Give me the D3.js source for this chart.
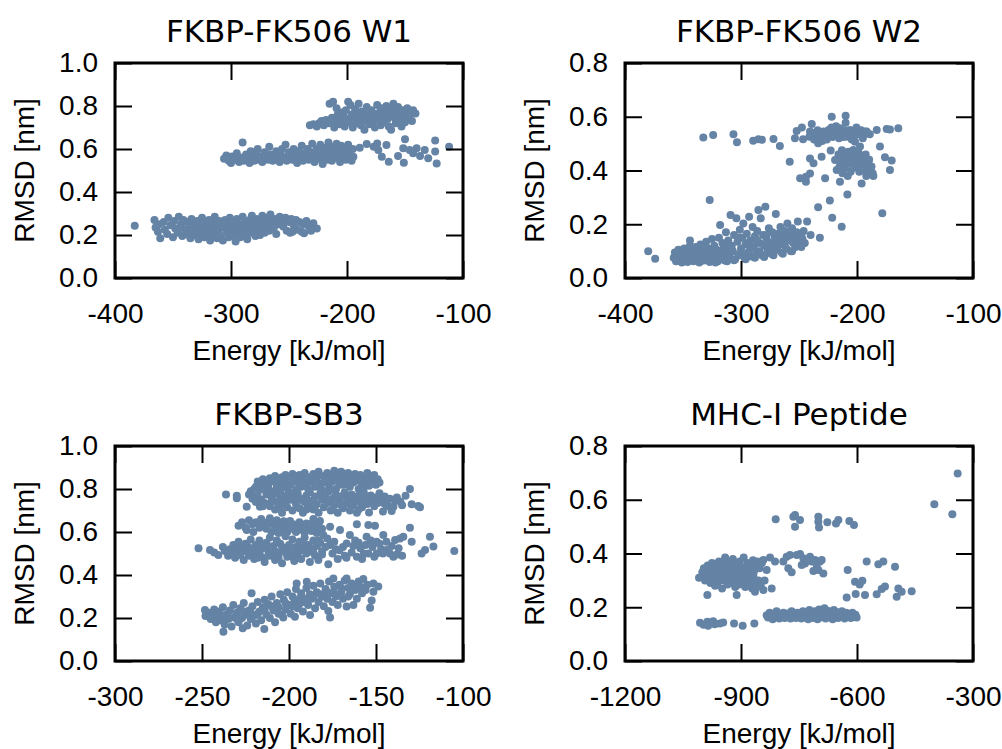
<!DOCTYPE html>
<html lang="en">
<head>
<meta charset="UTF-8">
<title>RMSD vs Energy</title>
<style>
  body { margin: 0; background: #fff; }
</style>
<script src="https://d3js.org/d3.v7.min.js"></script>
</head>
<body>
<script type="text/javascript">
// ---- data: [energy kJ/mol, RMSD nm] ----
const w1Low = [[-383,0.243],[-366,0.27],[-365,0.235],[-363,0.215],[-362,0.25],[-361,0.185],[-358,0.26],[-357,0.225],[-355,0.205],[-354,0.28],
[-352,0.245],[-350,0.19],[-349,0.265],[-348,0.23],[-346,0.21],[-345,0.285],[-343,0.25],[-342,0.195],[-341,0.27],[-339,0.225],[-338,0.205],[-337,0.26],[-336,0.24],
[-335,0.185],[-334,0.275],[-333,0.215],[-332,0.25],[-331,0.2],[-330,0.235],[-329,0.265],[-328,0.18],[-327,0.245],[-326,0.21],[-325,0.28],[-324,0.225],[-323,0.19],[-322,0.26],[-321,0.24],[-320,0.2],[-319,0.27],
[-318,0.175],[-317,0.23],[-316,0.255],[-315,0.205],[-314,0.285],[-313,0.24],[-312,0.185],[-311,0.22],[-310,0.265],[-309,0.195],[-308,0.25],[-307,0.175],[-306,0.235],[-305,0.27],[-304,0.21],[-303,0.245],[-302,0.19],[-301,0.28],
[-300,0.225],[-299,0.26],[-298,0.2],[-297,0.24],[-296,0.17],[-295,0.275],[-294,0.215],[-293,0.25],[-292,0.19],[-291,0.235],[-290,0.285],[-289,0.205],[-288,0.26],[-287,0.225],[-286,0.18],[-285,0.245],[-284,0.27],[-283,0.21],
[-282,0.29],[-281,0.235],[-280,0.255],[-279,0.195],[-278,0.275],[-277,0.225],[-276,0.245],[-275,0.2],[-274,0.265],[-273,0.29],[-272,0.235],[-271,0.21],[-270,0.255],[-269,0.28],[-268,0.24],[-267,0.22],
[-266,0.295],[-265,0.26],[-263,0.235],[-262,0.275],[-261,0.205],[-259,0.25],[-258,0.285],[-256,0.265],[-255,0.24],[-253,0.28],[-252,0.22],[-250,0.26],[-249,0.21],[-248,0.275],
[-246,0.245],[-244,0.27],[-243,0.225],[-241,0.26],[-239,0.215],[-238,0.25],[-235,0.265],[-233,0.24],[-231,0.22],[-229,0.255],[-226,0.23],[-237,0.208],[-247,0.215],
[-344,0.232],[-330,0.22],[-318,0.215],[-306,0.255],[-296,0.23],[-286,0.225],[-276,0.26],[-264,0.25]]

const w1Mid = [[-306,0.555],[-304,0.57],[-302,0.545],[-300,0.535],[-299,0.565],[-297,0.55],[-295,0.58],[-293,0.54],[-292,0.56],[-290,0.63],[-289,0.545],[-287,0.575],[-286,0.555],[-284,0.535],[-283,0.59],[-281,0.56],[-280,0.545],
[-278,0.575],[-277,0.6],[-276,0.55],[-274,0.565],[-273,0.54],[-271,0.585],[-270,0.56],[-268,0.55],[-267,0.61],[-266,0.575],[-264,0.545],[-263,0.565],[-261,0.59],[-260,0.555],[-258,0.54],[-257,0.575],[-256,0.6],[-254,0.56],[-253,0.62],
[-252,0.545],[-250,0.585],[-249,0.565],[-247,0.55],[-246,0.6],[-245,0.575],[-243,0.535],[-242,0.59],[-241,0.56],[-239,0.615],[-238,0.545],[-237,0.58],[-235,0.565],[-234,0.6],[-233,0.55],[-231,0.585],[-230,0.625],[-229,0.56],
[-228,0.54],[-226,0.6],[-225,0.575],[-224,0.555],[-223,0.62],[-222,0.59],[-221,0.53],[-220,0.565],[-219,0.605],[-218,0.58],[-217,0.55],[-216,0.63],[-215,0.595],[-214,0.57],[-213,0.545],[-212,0.61],[-211,0.585],[-210,0.56],
[-209,0.625],[-208,0.6],[-207,0.575],[-206,0.54],[-205,0.615],[-204,0.59],[-203,0.565],[-202,0.605],[-201,0.55],[-200,0.58],[-199,0.62],[-198,0.595],[-197,0.565],[-196,0.545],[-195,0.6],[-194.5,0.564],
[-189,0.606],[-183,0.623],[-177,0.611],[-174,0.626],[-173,0.595],[-170,0.564],[-166,0.619],[-164,0.541],[-156,0.567],[-151,0.536],[-150,0.645],[-151.5,0.603],[-146,0.595],[-143,0.58],[-140,0.603],
[-137,0.567],[-133,0.595],[-130,0.557],[-124,0.639],[-124,0.588],[-122.7,0.533],[-112,0.611]]

const w1High = [[-232,0.71],[-229,0.715],[-226,0.705],[-224,0.72],[-222,0.73],[-220,0.71],[-218,0.735],[-216,0.72],[-215,0.81],[-213,0.745],[-212,0.82],[-211,0.7],[-210,0.725],[-209,0.79],[-208,0.76],[-207,0.74],
[-206,0.715],[-205,0.77],[-204,0.73],[-203,0.75],[-202,0.705],[-201,0.78],[-200,0.74],[-199,0.82],[-198,0.725],[-197,0.805],[-196,0.76],[-195,0.7],[-194,0.745],[-193,0.785],[-192,0.72],[-191,0.765],[-190,0.81],
[-189,0.74],[-188,0.71],[-187,0.775],[-186,0.755],[-185,0.69],[-184,0.73],[-183,0.795],[-182,0.76],[-181,0.715],[-180,0.745],[-179,0.78],[-178,0.725],[-177,0.765],[-176,0.7],[-175,0.75],[-174,0.805],[-173,0.735],
[-172,0.77],[-171,0.71],[-170,0.79],[-169,0.755],[-168,0.725],[-167,0.775],[-166,0.8],[-165,0.74],[-164,0.705],[-163,0.76],[-162,0.69],[-161,0.785],[-160,0.81],[-159,0.745],[-158,0.72],[-157,0.77],[-156,0.795],
[-155,0.735],[-154,0.76],[-153,0.705],[-152,0.78],[-151,0.75],[-150,0.725],[-149,0.77],[-148,0.79],[-147,0.74],[-146,0.76],[-144,0.73],[-143,0.78],[-141,0.765]]

const w2Low = [[-380,0.10],[-374,0.072],[-358,0.075],[-357,0.095],[-356,0.062],[-355,0.085],[-354,0.105],[-353,0.07],[-352,0.09],[-351,0.058],[-350,0.08],[-349,0.11],[-348,0.068],[-347,0.095],[-346,0.06],[-345,0.085],
[-344,0.14],[-344,0.12],[-343,0.073],[-342,0.1],[-341,0.062],[-340,0.088],[-339,0.115],[-338,0.07],[-337,0.095],[-336,0.058],[-335,0.125],[-334,0.08],[-333,0.105],[-332,0.065],[-331,0.09],[-330,0.135],[-329,0.075],[-328,0.11],
[-327,0.29],[-327,0.06],[-326,0.095],[-325,0.145],[-324,0.07],[-323,0.12],[-322,0.085],[-321,0.105],[-320,0.062],[-319,0.15],[-318,0.197],[-317,0.09],[-317,0.075],[-316,0.13],[-315,0.11],[-314,0.065],[-313,0.17],[-312,0.095],[-311,0.14],[-310,0.078],
[-309,0.234],[-308,0.12],[-307,0.1],[-306,0.16],[-305,0.07],[-304,0.222],[-303,0.135],[-302,0.085],[-301,0.18],[-300,0.11],[-299,0.15],[-298,0.203],[-297,0.075],[-296,0.125],[-295,0.165],[-294,0.095],[-293,0.228],[-292,0.14],[-291,0.08],[-290,0.19],
[-289,0.115],[-288,0.155],[-287,0.1],[-286,0.175],[-285,0.253],[-284,0.13],[-283,0.222],[-282,0.085],[-281,0.16],[-280,0.12],[-279,0.265],[-278,0.145],[-277,0.1],[-276,0.185],[-275,0.13],[-274,0.09],[-273,0.17],[-272,0.115],[-271,0.15],[-270,0.238],
[-269,0.105],[-268,0.165],[-267,0.135],[-266,0.19],[-265,0.095],[-264,0.15],[-263,0.125],[-262,0.175],[-261,0.11],[-260,0.203],[-259,0.14],[-258,0.16],[-257,0.1],[-256,0.185],[-255,0.13],[-254,0.15],[-253,0.115],[-252,0.17],[-251,0.21],[-250,0.14],
[-249,0.125],[-248,0.16],[-247,0.145],[-246,0.175],[-245,0.13],[-243,0.21],[-240,0.16],[-232,0.15],
[-335,0.062],[-322,0.058],[-312,0.062],[-306,0.066],[-296,0.07],[-288,0.075],[-280,0.078],[-272,0.085],[-264,0.09],[-256,0.1],[-248,0.115],
[-345,0.1],[-338,0.085],[-332,0.115],[-325,0.09],[-315,0.09],[-308,0.105],[-300,0.095],[-292,0.11],[-284,0.1],[-276,0.115],[-268,0.12],[-260,0.14],
[-320,0.1],[-310,0.12],[-302,0.15],[-294,0.13],[-286,0.14],[-278,0.16],[-270,0.14],[-262,0.155]]

const w2High = [[-332.5,0.523],[-324,0.532],[-306.5,0.535],[-303.5,0.505],[-289.5,0.511],[-285,0.516],[-282,0.514],[-272,0.517],[-266.5,0.491],[-258,0.433],[-253.5,0.52],[-252,0.547],[-247.5,0.56],[-246.5,0.516],
[-249,0.371],[-244,0.358],[-244,0.377],[-241,0.526],[-239,0.573],[-240.5,0.545],[-240.5,0.445],[-240.5,0.389],[-237.5,0.427],[-238,0.54],[-237,0.515],[-236,0.53],[-235,0.532],[-234,0.55],[-233.5,0.501],[-233,0.52],
[-232,0.523],[-231,0.54],[-230.5,0.451],[-230,0.51],[-229,0.545],[-228,0.53],[-227.5,0.371],[-226,0.515],[-233.5,0.263],[-223.4,0.288],[-221.4,0.224],[-213.2,0.191],[-208.3,0.311],[-178.2,0.241],[-222.7,0.474],[-221.8,0.6],
[-224.5,0.551],[-223,0.54],[-222,0.56],[-221,0.525],[-220.5,0.551],[-219.5,0.535],[-218.9,0.439],[-218,0.565],[-217.5,0.532],[-217.5,0.402],[-216.5,0.548],[-216,0.46],[-215.5,0.52],[-215,0.415],[-214.7,0.557],[-214.7,0.358],
[-214,0.44],[-213.5,0.54],[-213,0.475],[-212.5,0.39],[-212,0.525],[-211.5,0.43],[-211,0.455],[-210.5,0.55],[-210,0.41],[-209.8,0.604],[-209.8,0.578],[-209,0.526],[-208.5,0.445],[-208,0.38],[-207.5,0.47],[-207,0.54],
[-206.5,0.425],[-206,0.551],[-205.5,0.395],[-205,0.46],[-204.5,0.515],[-204,0.435],[-203.2,0.545],[-203.2,0.476],[-202.5,0.41],[-202,0.53],[-201.7,0.507],[-201,0.45],[-200.5,0.56],[-200.3,0.439],[-199.5,0.42],[-199,0.535],
[-198.5,0.465],[-198,0.395],[-197.4,0.489],[-197.4,0.414],[-196.5,0.55],[-196,0.352],[-195.5,0.445],[-195,0.52],[-194.5,0.532],[-194,0.43],[-193.5,0.4],[-193,0.545],[-192.5,0.46],[-192,0.38],[-191.7,0.545],[-191,0.42],
[-190.2,0.389],[-189.5,0.44],[-189,0.535],[-188.5,0.405],[-187.5,0.415],[-186.5,0.39],[-185.9,0.38],[-183,0.551],[-180.2,0.489],[-175.9,0.449],[-174.4,0.554],[-171.6,0.553],[-171.6,0.402],[-170.1,0.437],[-164.4,0.557]]

const sb3Top = [[-236.2,0.775],[-230,0.769],[-230,0.757],[-224.3,0.718],[-216.7,0.718],[-222,0.79],[-221,0.77],[-220,0.8],[-223,0.775],
[-219,0.81],[-218,0.835],[-217,0.795],[-216,0.82],[-215,0.845],[-214,0.8],[-213,0.83],[-212,0.815],[-211,0.85],[-210,0.79],[-209,0.835],[-208,0.86],[-207,0.81],[-206,0.84],[-205,0.795],[-204,0.855],[-203,0.825],
[-202,0.865],[-201,0.805],[-200,0.84],[-199,0.82],[-198,0.87],[-197,0.85],[-196,0.795],[-195,0.83],[-194,0.865],[-193,0.81],[-192,0.845],[-191,0.875],[-190,0.825],[-189,0.8],[-188,0.855],[-187,0.835],[-186,0.87],
[-185,0.81],[-184,0.85],[-183,0.88],[-182,0.825],[-181,0.795],[-180,0.86],[-179,0.84],[-178,0.875],[-177,0.815],[-176,0.855],[-175,0.835],[-174,0.885],[-173,0.8],[-172,0.865],[-171,0.845],[-170,0.88],[-169,0.82],
[-168,0.86],[-167,0.84],[-166,0.875],[-165,0.81],[-164,0.855],[-163,0.83],[-162,0.87],[-161,0.845],[-160,0.8],[-159,0.865],[-158,0.825],[-157,0.855],[-156,0.84],[-155,0.875],[-154,0.815],[-153,0.85],[-152,0.835],
[-151,0.865],[-150,0.82],[-149,0.845],[-148,0.83],
[-214,0.825],[-206,0.815],[-199,0.845],[-192,0.82],[-186,0.845],[-180,0.83],[-174,0.85],[-168,0.835],[-162,0.845],[-156,0.815],[-212,0.84],[-202,0.83],[-196,0.86],[-189,0.83],[-183,0.815],[-177,0.845],[-171,0.82],
[-165,0.845],[-159,0.835],[-153,0.825],
[-221,0.755],[-219,0.74],[-218,0.765],[-216,0.75],[-214,0.735],[-213,0.775],[-211,0.72],[-210,0.76],[-209,0.745],[-208,0.705],[-207,0.78],[-206,0.73],[-205,0.755],[-204,0.69],[-203,0.77],[-202,0.74],[-201,0.715],
[-200,0.785],[-199,0.75],[-198,0.7],[-197,0.765],[-196,0.73],[-195,0.78],[-194,0.71],[-193,0.755],[-192,0.69],[-191,0.74],[-190,0.77],[-189,0.72],[-188,0.785],[-187,0.745],[-186,0.705],[-185,0.765],[-184,0.73],
[-183,0.69],[-182,0.78],[-181,0.75],[-180,0.715],[-179,0.765],[-178,0.735],[-177,0.79],[-176,0.7],[-175,0.755],[-174,0.725],[-173,0.775],[-172,0.69],[-171,0.745],[-170,0.765],[-169,0.71],[-168,0.785],[-167,0.735],
[-166,0.755],[-165,0.7],[-164,0.775],[-163,0.725],[-162,0.75],[-161,0.69],[-160,0.77],[-159,0.74],[-158,0.715],[-157,0.785],[-156,0.755],[-155,0.73],[-154,0.691],[-153,0.77],[-152,0.745],[-151,0.72],[-150,0.76],
[-149,0.735],[-148,0.78],[-147,0.75],[-146,0.695],[-145,0.765],[-144,0.74],[-143,0.72],[-142,0.755],[-141,0.698],[-140,0.718],[-139,0.745],[-138,0.76],[-136,0.741],[-135,0.725],[-133,0.769],[-130.5,0.8],
[-129.5,0.729],[-125.7,0.721],[-124.7,0.715],
[-215,0.72],[-205,0.72],[-195,0.745],[-185,0.72],[-175,0.705],[-165,0.73],[-155,0.76],[-145,0.73],[-190,0.705],[-180,0.765],[-170,0.725],[-160,0.705],[-200,0.765],[-210,0.74]]

const sb3Mid = [[-229,0.629],[-227,0.645],[-225,0.62],[-224.3,0.609],[-223,0.655],[-221,0.636],[-220.5,0.6],[-219,0.645],[-217,0.62],[-216,0.66],[-214.7,0.645],[-213,0.615],[-212,0.635],[-211,0.664],[-210,0.6],
[-209,0.64],[-208,0.62],[-207,0.655],[-206,0.595],[-205,0.635],[-204,0.61],[-203,0.65],[-202,0.625],[-201,0.6],[-200,0.64],[-199.4,0.651],[-198,0.615],[-197,0.635],[-196,0.6],[-195,0.625],[-194,0.645],[-193,0.61],
[-192,0.63],[-191,0.595],[-190,0.64],[-189,0.62],[-188,0.636],[-187,0.605],[-186,0.66],[-185,0.625],[-184,0.595],[-183,0.64],[-182.2,0.651],[-181,0.615],[-176.4,0.625],[-161,0.636],[-154.4,0.633],[-150.6,0.629],[-130.5,0.62],
[-252,0.524],[-245.4,0.516],[-243,0.505],[-240.6,0.493],[-238,0.53],[-236.8,0.512],[-235,0.49],
[-234,0.52],[-233,0.5],[-232,0.54],[-231,0.48],[-230,0.515],[-229,0.555],[-228,0.495],[-227,0.53],[-226,0.47],[-225,0.545],[-224,0.51],[-223,0.49],[-222,0.565],[-221,0.525],[-220,0.475],[-219,0.54],[-218,0.505],
[-217,0.56],[-216,0.485],[-215,0.53],[-214,0.46],[-213,0.55],[-212,0.515],[-211,0.575],[-210,0.49],[-209,0.535],[-208,0.47],[-207,0.56],[-206,0.5],[-205,0.545],[-204,0.455],[-203,0.52],[-202,0.58],[-201,0.485],
[-200,0.54],[-199,0.505],[-198,0.565],[-197,0.465],[-196,0.53],[-195,0.495],[-194,0.555],[-193,0.475],[-192,0.515],[-191,0.575],[-190,0.5],[-189,0.54],[-188,0.46],[-187,0.525],[-186,0.56],[-185,0.49],[-184,0.535],
[-183.1,0.47],[-182,0.55],[-181,0.51],
[-232,0.505],[-228,0.525],[-224,0.535],[-220,0.5],[-216,0.52],[-212,0.49],[-208,0.51],[-204,0.53],[-200,0.515],[-196,0.505],[-192,0.545],[-188,0.52],[-230,0.49],[-226,0.51],[-222,0.515],[-218,0.48],[-214,0.535],
[-210,0.525],[-206,0.48],[-202,0.505],[-198,0.485],[-194,0.52],[-190,0.53],[-186,0.505],
[-180.3,0.586],[-177.4,0.45],[-176.4,0.54],[-175,0.5],[-173,0.52],[-172,0.475],[-170.7,0.609],[-169,0.53],[-168,0.49],[-166.9,0.547],[-165,0.586],[-164,0.505],[-162,0.56],[-161,0.485],[-159,0.525],[-157,0.5],
[-155.4,0.578],[-154.4,0.5],[-152,0.53],[-149.6,0.555],[-149.6,0.5],[-147,0.52],[-145.8,0.586],[-143.9,0.516],[-142,0.5],[-141,0.535],[-140,0.485],[-139,0.563],[-138,0.495],[-136.2,0.57],[-134.3,0.578],
[-129.5,0.555],[-123.8,0.5],[-121.8,0.516],[-119,0.578],[-117,0.532],[-105,0.512],
[-183,0.56],[-181,0.495],[-179,0.53],[-178,0.57],[-174,0.555],[-171,0.515],[-167,0.48],[-163,0.535],[-160,0.55],[-158,0.475],[-156,0.54],[-153,0.56],[-151,0.485],[-148,0.545],[-146,0.5],[-144,0.555],[-137,0.525],[-135,0.49]]

const sb3Low = [[-248.3,0.237],[-248,0.209],[-246,0.225],[-245,0.195],[-244,0.215],[-243,0.24],[-242,0.18],[-241,0.205],[-240,0.23],[-239,0.19],[-238,0.25],[-237.7,0.136],[-237,0.17],[-236,0.215],[-235,0.195],
[-234,0.235],[-233,0.16],[-232,0.26],[-231,0.205],[-230,0.225],[-229,0.18],[-228,0.245],[-227,0.2],[-226.6,0.152],[-226,0.27],[-225,0.215],[-224,0.165],[-223,0.235],[-222,0.195],[-221.5,0.315],[-221,0.255],
[-220,0.21],[-219,0.175],[-218,0.275],[-217,0.23],[-216,0.19],[-215,0.25],[-214.2,0.149],[-214,0.285],[-213,0.215],[-212,0.265],[-211,0.2],[-210,0.3],[-209,0.235],[-208,0.18],[-207,0.27],[-206,0.25],[-205,0.31],
[-204,0.215],[-203.3,0.202],[-203,0.285],[-202,0.24],[-201,0.32],[-200,0.26],[-199,0.22],[-198,0.3],[-197,0.275],[-196.6,0.206],[-196,0.335],[-195.6,0.361],[-195,0.245],[-194,0.29],[-193,0.315],[-192,0.23],
[-191,0.275],[-190,0.34],[-189.8,0.369],[-189,0.26],[-188,0.31],[-187.9,0.214],[-187,0.29],[-186,0.35],[-185,0.245],[-184,0.32],[-183,0.275],[-182,0.36],[-181,0.3],[-180,0.255],[-179,0.335],[-178,0.29],
[-177.4,0.233],[-177,0.37],[-176.4,0.202],[-176,0.315],[-175,0.275],[-174.5,0.384],[-174,0.345],[-173,0.3],[-172,0.26],[-171,0.355],[-170,0.32],[-169,0.29],[-168,0.375],[-166.9,0.384],[-166.9,0.253],[-166,0.34],
[-165,0.31],[-164,0.36],[-163,0.26],[-162,0.33],[-161,0.29],[-160,0.37],[-159,0.345],[-158,0.315],[-157.3,0.381],[-156,0.33],[-155,0.355],[-153.4,0.248],[-152.5,0.281],[-151.5,0.322],[-151.5,0.361],[-148.7,0.346],
[-242,0.22],[-238,0.205],[-234,0.2],[-230,0.195],[-226,0.23],[-222,0.225],[-218,0.22],[-214,0.24],[-210,0.255],[-206,0.22],[-202,0.27],[-198,0.255],[-194,0.265],[-190,0.29],[-186,0.3],[-182,0.31],[-178,0.32],
[-174,0.315],[-170,0.34],[-166,0.3],[-162,0.35]]

const mhcUpper = [[-1008.6,0.31],[-1000,0.33],[-998,0.315],[-995,0.34],[-993,0.3],[-990,0.325],[-987,0.246],[-986,0.355],[-984,0.31],[-981,0.335],[-979,0.29],[-977,0.32],[-975,0.365],[-973,0.345],[-971,0.305],
[-969,0.33],[-967,0.28],[-965,0.36],[-963,0.315],[-961,0.34],[-959,0.295],[-957,0.37],[-955,0.325],[-953,0.35],[-951,0.31],[-949,0.27],[-947,0.335],[-945,0.36],[-943,0.3],[-941,0.385],[-939,0.32],[-937,0.345],
[-935,0.285],[-933,0.31],[-931,0.365],[-929,0.33],[-927,0.29],[-925,0.35],[-923,0.315],[-921,0.38],[-919,0.3],[-917,0.34],[-915,0.275],[-913,0.32],[-911.2,0.246],[-911,0.36],[-909,0.305],[-907,0.335],[-905,0.285],
[-903,0.37],[-901,0.315],[-899,0.35],[-897,0.295],[-895,0.33],[-893,0.385],[-891,0.31],[-889,0.275],[-887,0.345],[-885,0.32],[-883,0.365],[-881,0.29],[-879,0.335],[-877,0.28],[-875,0.355],[-873,0.31],[-871,0.27],
[-869,0.375],[-867,0.33],[-865,0.29],[-863.8,0.258],[-861,0.35],[-859,0.275],[-857,0.37],[-855,0.3],[-852,0.345],[-849,0.28],[-846,0.365],[-842.2,0.264],[-842.2,0.376],[-839,0.3],[-833.6,0.339],[-825,0.385],
[-820.7,0.27],[-812,0.37],
[-996,0.345],[-988,0.31],[-980,0.3],[-972,0.325],[-964,0.3],[-956,0.345],[-948,0.32],[-940,0.305],[-932,0.335],[-924,0.3],[-916,0.355],[-908,0.32],[-900,0.335],[-892,0.3],[-884,0.34],[-876,0.3],[-868,0.315],
[-790.5,0.37],[-781.9,0.388],[-773.3,0.394],[-777.6,0.345],[-769,0.33],[-756,0.394],[-747.4,0.398],[-738.8,0.382],[-734.5,0.363],[-743,0.357],[-721.6,0.388],[-717.2,0.37],[-708.6,0.376],[-704.3,0.357],
[-695.7,0.37],[-691.4,0.376],[-712.9,0.335],[-700,0.339],[-687.1,0.326],[-728,0.375],
[-810.3,0.527],[-764.7,0.537],[-760.3,0.543],[-747.4,0.525],[-760.3,0.5],[-700,0.537],[-700,0.518],[-698.3,0.497],[-676.7,0.516],[-654.3,0.512],[-648.3,0.525],[-619.8,0.521],[-607.8,0.506],
[-624.1,0.339],[-575,0.37],[-544.8,0.36],[-531.9,0.37],[-501.7,0.351],[-605.2,0.295],[-593,0.285],[-586.2,0.299],[-626.7,0.236],[-603.4,0.249],[-579.3,0.246],[-549.1,0.248],[-536.2,0.268],[-527.6,0.277],
[-497.4,0.239],[-493.1,0.27],[-484.5,0.258],[-458.6,0.26],
[-339.7,0.698],[-400,0.583],[-353.4,0.546]]

const mhcLower = [[-1006,0.142],[-997,0.135],[-987,0.146],[-985,0.131],[-972,0.148],[-968,0.137],[-955,0.14],[-946,0.143],[-918,0.14],[-895.7,0.131],[-865.5,0.14],
[-833.6,0.17],[-830,0.162],[-826,0.18],[-822,0.168],[-818,0.155],[-815,0.175],[-811,0.163],[-808,0.185],[-805,0.17],[-801,0.158],[-798,0.176],[-794,0.166],[-790,0.18],[-787,0.16],[-783,0.172],[-780,0.164],
[-776,0.178],[-772,0.158],[-769,0.185],[-765,0.168],[-762,0.175],[-758,0.16],[-754,0.18],[-751,0.165],[-747,0.172],[-744,0.158],[-740,0.185],[-737,0.17],[-733,0.162],[-730,0.178],[-726,0.155],[-723,0.19],
[-719,0.168],[-716,0.176],[-712,0.16],[-709,0.185],[-705,0.17],[-702,0.155],[-698,0.192],[-695,0.175],[-691,0.163],[-688,0.18],[-684,0.196],[-681,0.158],[-677,0.172],[-674,0.186],[-670,0.165],[-667,0.178],
[-663,0.155],[-660,0.19],[-656,0.17],[-653,0.182],[-649,0.16],[-646,0.175],[-642,0.166],[-639,0.185],[-635,0.17],[-632,0.158],[-628,0.18],[-624,0.168],[-620,0.175],[-616,0.16],[-612,0.18],[-608,0.165],
[-604,0.172],[-601,0.162]]

// ---- layout ----
const pw = 348, ph = 215
const dotColor = "#6483a5"
const tickFont = "'Liberation Sans', Arial, sans-serif"
const titleFont = "'DejaVu Sans', sans-serif"

const panels = [
	{title: "FKBP-FK506 W1", data: w1Low.concat(w1Mid, w1High), xDom: [-400, -100], xTicks: [-400, -300, -200, -100], yDom: [0, 1], yTicks: [0, 0.2, 0.4, 0.6, 0.8, 1.0], left: 115, top: 63},
	{title: "FKBP-FK506 W2", data: w2Low.concat(w2High), xDom: [-400, -100], xTicks: [-400, -300, -200, -100], yDom: [0, 0.8], yTicks: [0, 0.2, 0.4, 0.6, 0.8], left: 625, top: 63},
	{title: "FKBP-SB3", data: sb3Top.concat(sb3Mid, sb3Low), xDom: [-300, -100], xTicks: [-300, -250, -200, -150, -100], yDom: [0, 1], yTicks: [0, 0.2, 0.4, 0.6, 0.8, 1.0], left: 115, top: 446},
	{title: "MHC-I Peptide", data: mhcUpper.concat(mhcLower), xDom: [-1200, -300], xTicks: [-1200, -900, -600, -300], yDom: [0, 0.8], yTicks: [0, 0.2, 0.4, 0.6, 0.8], left: 625, top: 446}
]

//create an svg
const svg = d3.select("body").append("svg")
	.attr("width", 1002)
	.attr("height", 749)
	.style("background", "#fff")

function styleAxis(sel) {
	sel.select(".domain").remove()
	sel.selectAll(".tick line").attr("stroke", "#000").attr("stroke-width", 2)
	sel.selectAll(".tick text").attr("fill", "#000")
	sel.attr("font-size", 28).attr("font-family", tickFont)
}

function drawPanel(p) {
	const g = svg.append("g").attr("transform", "translate(" + p.left + "," + p.top + ")")
	const x = d3.scaleLinear().domain(p.xDom).range([0, pw])
	const y = d3.scaleLinear().domain(p.yDom).range([ph, 0])

	// points
	g.selectAll(".dot")
		.data(p.data)
		.join("circle")
		.attr("class", "dot")
		.attr("cx", d => x(d[0]))
		.attr("cy", d => y(d[1]))
		.attr("r", 4)
		.style("fill", dotColor)

	// axes, ticks pointing inward on all four sides
	g.append("g").attr("transform", "translate(0," + ph + ")")
		.call(d3.axisBottom(x).tickValues(p.xTicks).tickSizeInner(-17).tickSizeOuter(0).tickPadding(25).tickFormat(d => String(d)))
		.call(styleAxis)
	g.append("g")
		.call(d3.axisTop(x).tickValues(p.xTicks).tickSizeInner(-17).tickSizeOuter(0).tickFormat(""))
		.call(styleAxis)
	g.append("g")
		.call(d3.axisLeft(y).tickValues(p.yTicks).tickSizeInner(-17).tickSizeOuter(0).tickPadding(17).tickFormat(d3.format(".1f")))
		.call(styleAxis)
	g.append("g").attr("transform", "translate(" + pw + ",0)")
		.call(d3.axisRight(y).tickValues(p.yTicks).tickSizeInner(-17).tickSizeOuter(0).tickFormat(""))
		.call(styleAxis)

	// frame
	g.append("rect")
		.attr("width", pw).attr("height", ph)
		.style("fill", "none").style("stroke", "#000").style("stroke-width", 3)

	// title and axis labels
	g.append("text")
		.attr("x", pw / 2).attr("y", -21)
		.attr("text-anchor", "middle")
		.style("font-family", titleFont).style("font-size", "31px")
		.text(p.title)
	g.append("text")
		.attr("x", pw / 2).attr("y", ph + 82)
		.attr("text-anchor", "middle")
		.style("font-family", tickFont).style("font-size", "28px")
		.text("Energy [kJ/mol]")
	g.append("text")
		.attr("transform", "translate(-81," + (ph / 2) + ") rotate(-90)")
		.attr("text-anchor", "middle")
		.style("font-family", tickFont).style("font-size", "28px")
		.text("RMSD [nm]")
}

panels.forEach(drawPanel)
</script>
</body>
</html>
